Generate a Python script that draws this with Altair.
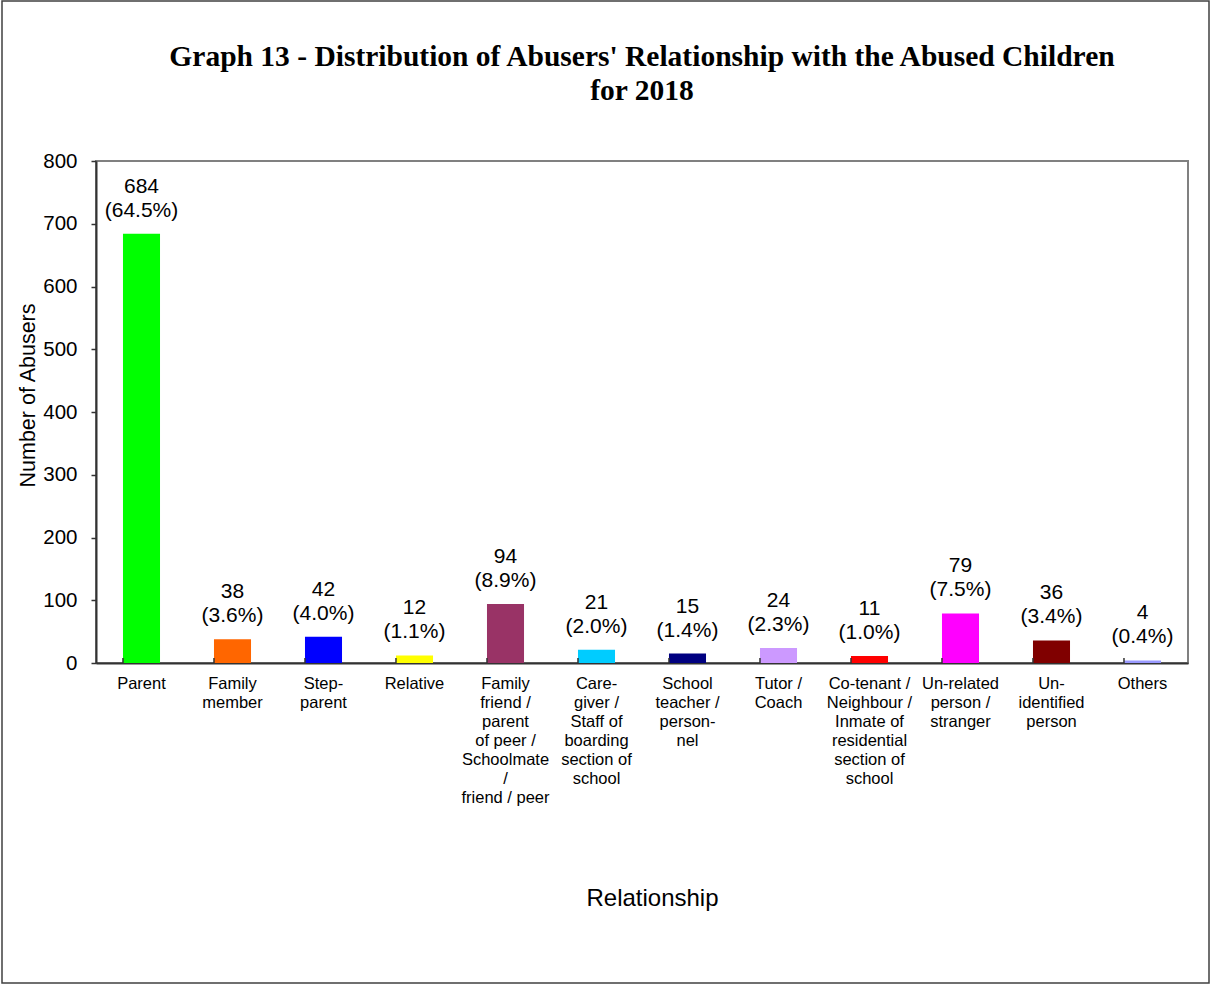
import altair as alt
import pandas as pd

categories = [
    "Parent",
    "Family|member",
    "Step-|parent",
    "Relative",
    "Family|friend /|parent|of peer /|Schoolmate|/|friend / peer",
    "Care-|giver /|Staff of|boarding|section of|school",
    "School|teacher /|person-|nel",
    "Tutor /|Coach",
    "Co-tenant /|Neighbour /|Inmate of|residential|section of|school",
    "Un-related|person /|stranger",
    "Un-|identified|person",
    "Others",
]
values = [684, 38, 42, 12, 94, 21, 15, 24, 11, 79, 36, 4]
percents = [64.5, 3.6, 4.0, 1.1, 8.9, 2.0, 1.4, 2.3, 1.0, 7.5, 3.4, 0.4]
colors = ["#00FF00", "#FF6600", "#0000FF", "#FFFF00", "#993366", "#00CCFF",
          "#000080", "#CC99FF", "#FF0000", "#FF00FF", "#800000", "#9999FF"]
y_ticks = [0, 100, 200, 300, 400, 500, 600, 700, 800]

df = pd.DataFrame({"cat": categories, "value": values, "pct": percents})

FONT = "Liberation Sans"

x_enc = alt.X(
    "cat:N", sort=categories,
    scale=alt.Scale(paddingInner=0.593, paddingOuter=0.2965),
    axis=alt.Axis(
        title="Relationship", titleFont=FONT, titleFontSize=24, titleFontWeight="normal",
        titleColor="black", titleX=556, titleY=235, titleBaseline="middle", titleAlign="center",
        labelExpr="split(datum.label, '|')", labelAngle=0, labelFont=FONT, labelFontSize=16.5,
        labelColor="black", labelLineHeight=19, labelBaseline="top", labelPadding=12,
        ticks=False, domainColor="#333333", domainWidth=2, labelLimit=0,
    ),
)

y_enc = alt.Y(
    "value:Q",
    scale=alt.Scale(domain=[0, 800], nice=False),
    axis=alt.Axis(
        values=y_ticks, title="Number of Abusers", titleFont=FONT, titleFontSize=21.5,
        titleFontWeight="normal", titleColor="black", titleX=-68, titleY=234,
        titleAngle=-90, titleAlign="center", titleBaseline="middle",
        labelFont=FONT, labelFontSize=20.5, labelColor="black", labelPadding=14,
        tickSize=5, tickColor="#333333", tickWidth=1.5, domainColor="#333333", domainWidth=2,
        grid=False,
    ),
)

bars = alt.Chart(df).mark_bar().encode(
    x=x_enc,
    y=y_enc,
    color=alt.Color("cat:N", sort=categories,
                    scale=alt.Scale(domain=categories, range=colors), legend=None),
)

labels = alt.Chart(df).transform_calculate(
    lbl="[format(datum.value, 'd'), '(' + format(datum.pct, '.1f') + '%)']"
).mark_text(
    font=FONT, fontSize=21, baseline="bottom", dy=-37, lineHeight=24, color="black"
).encode(
    x=alt.X("cat:N", sort=categories),
    y="value:Q",
    text="lbl:N",
)

ticks = alt.Chart(df).mark_rule(color="#333333", strokeWidth=1.5).encode(
    x=alt.X("cat:N", sort=categories, bandPosition=0),
    y=alt.value(497),
    y2=alt.value(502),
)

frame = alt.Chart(alt.Data(values=[{}])).mark_rect(
    fill=None, stroke="#404040", strokeWidth=1.5
).encode(
    x=alt.value(-94), x2=alt.value(1113), y=alt.value(-160), y2=alt.value(822)
)

chart = alt.layer(frame, bars, labels, ticks).properties(
    width=1092, height=502,
    title=alt.TitleParams(
        text=["Graph 13 - Distribution of Abusers' Relationship with the Abused Children",
              "for 2018"],
        font="Liberation Serif", fontSize=29.5, fontWeight="bold", color="black",
        anchor="middle", frame="group", lineHeight=34, offset=-106,
    ),
    autosize=alt.AutoSizeParams(type="none"),
    padding={"left": 96, "top": 161, "right": 23, "bottom": 322},
    background="white",
).configure_view(stroke="#808080", strokeWidth=2)

chart.save("out.html", embed_options={"renderer": "svg", "actions": False})
